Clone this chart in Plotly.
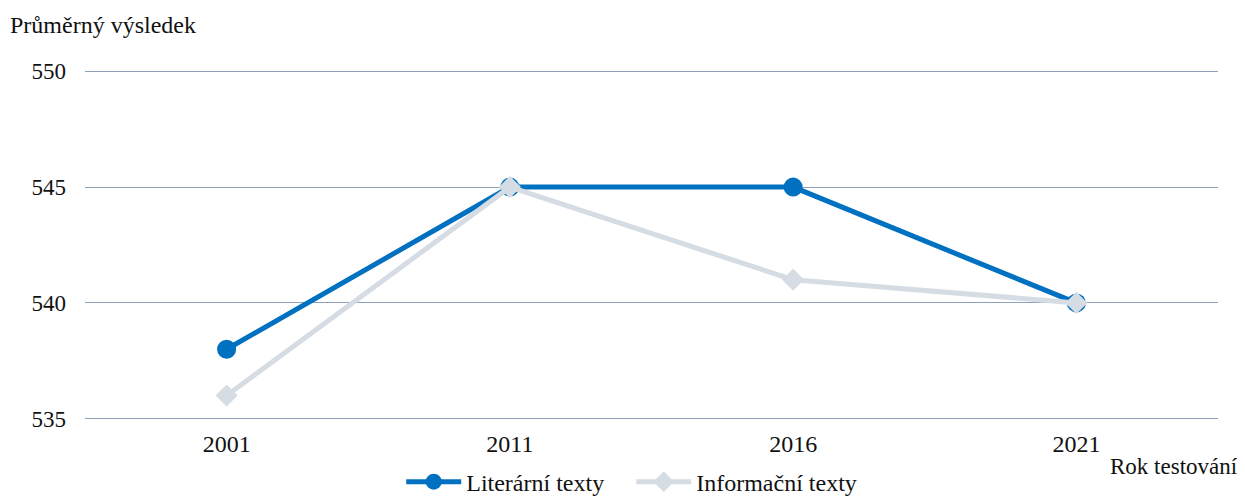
import plotly.graph_objects as go

years = ["2001", "2011", "2016", "2021"]
literarni = [538, 545, 545, 540]
informacni = [536, 545, 541, 540]
y_ticks = [535, 540, 545, 550]

FONT = "Liberation Serif"

fig = go.Figure()
fig.add_trace(go.Scatter(
    x=years, y=literarni, name="Literární texty", mode="lines+markers",
    line=dict(color="#0070C0", width=5),
    marker=dict(symbol="circle", size=19, color="#0070C0"),
))
fig.add_trace(go.Scatter(
    x=years, y=informacni, name="Informační texty", mode="lines+markers",
    line=dict(color="#D6DCE4", width=5),
    marker=dict(symbol="diamond", size=17, color="#D6DCE4"),
))

fig.update_layout(
    width=1245, height=497,
    margin=dict(l=85, r=27, t=69, b=76, autoexpand=False),
    paper_bgcolor="white", plot_bgcolor="white",
    font=dict(family=FONT, size=24, color="#111111"),
    showlegend=True,
    legend=dict(orientation="h", xref="container", yref="container",
                x=0.507, xanchor="center", y=0.03, yanchor="middle",
                font=dict(family=FONT, size=24), itemwidth=55, tracegroupgap=0,
                entrywidth=160, entrywidthmode="pixels"),
    xaxis=dict(type="category", range=[-0.5, 3.5], showgrid=False, showline=False,
               zeroline=False, ticks="", tickfont=dict(family=FONT, size=24),
               ticklabelstandoff=6),
    # small padding beyond 535/550 so the edge gridlines are kept
    yaxis=dict(range=[534.9, 550.1], tickvals=y_ticks, showgrid=True, gridcolor="#8FA1BA",
               gridwidth=1, zeroline=False, showline=False, ticks="",
               tickfont=dict(family=FONT, size=23), ticklabelstandoff=18),
    annotations=[
        dict(text="Průměrný výsledek", xref="paper", yref="paper", x=0, y=1.0,
             xanchor="left", yanchor="middle", yshift=44, xshift=-77, showarrow=False,
             font=dict(family=FONT, size=24)),
        dict(text="Rok testování", x=1.0, xref="paper", y=0, yref="paper",
             xanchor="left", yanchor="middle", xshift=-110, yshift=-45, showarrow=False,
             font=dict(family=FONT, size=23)),
    ],
)

fig.write_html("out.html")
